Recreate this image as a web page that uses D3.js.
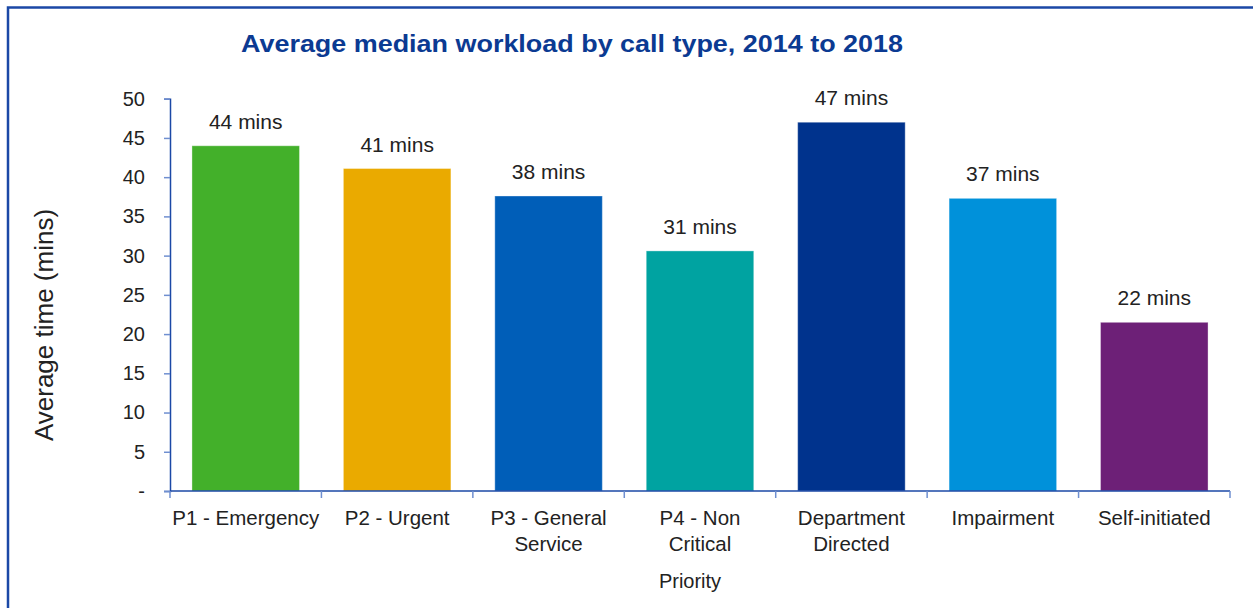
<!DOCTYPE html>
<html>
<head>
<meta charset="utf-8">
<script src="https://cdn.jsdelivr.net/npm/d3@7"></script>
<style>
  html, body { margin: 0; padding: 0; background: #fff; }
  svg { display: block; font-family: "Liberation Sans", Arial, sans-serif; }
</style>
</head>
<body>
<div id="chart"></div>
<script>
// Chart data
const categories = [
	["P1 - Emergency"], ["P2 - Urgent"], ["P3 - General", "Service"],
	["P4 - Non", "Critical"], ["Department", "Directed"], ["Impairment"], ["Self-initiated"]
];
const values = [44.0, 41.1, 37.6, 30.6, 47.0, 37.3, 21.5];
const valueLabels = ["44 mins", "41 mins", "38 mins", "31 mins", "47 mins", "37 mins", "22 mins"];
const barColors = ["#43b02a", "#eaaa00", "#005eb8", "#00a3a1", "#00338d", "#0091da", "#6d2077"];
const yTicks = [0, 5, 10, 15, 20, 25, 30, 35, 40, 45, 50];

(function (d3) {
	"use strict";
	const width = 1253, height = 608;
	const margin = { top: 98.7, right: 23, bottom: 117, left: 170 };

	const svg = d3.select("#chart").append("svg")
		.attr("width", width)
		.attr("height", height);

	// outer frame
	svg.append("rect")
		.attr("x", 8).attr("y", 7.5)
		.attr("width", width + 20).attr("height", height + 20)
		.attr("fill", "none")
		.attr("stroke", "#1b48a6")
		.attr("stroke-width", 2.5);

	// title (reference font is wider, so stretch to its measured width)
	svg.append("text")
		.attr("x", 572).attr("y", 52)
		.attr("text-anchor", "middle")
		.attr("font-weight", "bold")
		.attr("font-size", 24)
		.attr("textLength", 662)
		.attr("lengthAdjust", "spacingAndGlyphs")
		.attr("fill", "#0b3a92")
		.text("Average median workload by call type, 2014 to 2018");

	const x = d3.scaleBand()
		.domain(d3.range(categories.length))
		.range([margin.left, width - margin.right])
		.paddingInner(0.29)
		.paddingOuter(0.145);

	const y = d3.scaleLinear()
		.domain([0, 50])
		.range([height - margin.bottom, margin.top]);

	// bars
	svg.append("g").selectAll("rect")
		.data(values)
		.join("rect")
		.attr("x", (d, i) => x(i))
		.attr("y", d => y(d))
		.attr("width", x.bandwidth())
		.attr("height", d => y(0) - y(d))
		.attr("fill", (d, i) => barColors[i])
		.attr("stroke", "rgba(255,255,255,0.35)")
		.attr("stroke-width", 1);

	// value labels
	svg.append("g").selectAll("text")
		.data(values)
		.join("text")
		.attr("x", (d, i) => x(i) + x.bandwidth() / 2)
		.attr("y", d => y(d) - 17)
		.attr("text-anchor", "middle")
		.attr("font-size", 21)
		.attr("fill", "#222")
		.text((d, i) => valueLabels[i]);

	// y axis
	const yAxis = d3.axisLeft(y)
		.tickValues(yTicks)
		.tickSize(6)
		.tickPadding(19)
		.tickFormat(d => d === 0 ? "-" : d);
	const gy = svg.append("g")
		.attr("transform", "translate(" + margin.left + ",0)")
		.call(yAxis);
	gy.select(".domain").attr("stroke", "#1b48a6").attr("stroke-width", 1.5);
	gy.selectAll(".tick line").attr("stroke", "#6f8fd0").attr("stroke-width", 1.5);
	gy.selectAll(".tick text")
		.attr("font-size", 20)
		.attr("font-family", "Liberation Sans, Arial, sans-serif")
		.attr("fill", "#222");

	// x axis: ticks at band boundaries
	const boundaries = d3.range(categories.length + 1)
		.map(i => margin.left + i * (width - margin.right - margin.left) / categories.length);
	const gx = svg.append("g");
	gx.append("line")
		.attr("x1", margin.left).attr("x2", width - margin.right)
		.attr("y1", y(0)).attr("y2", y(0))
		.attr("stroke", "#1b48a6").attr("stroke-width", 1.5);
	gx.selectAll(".xt")
		.data(boundaries)
		.join("line")
		.attr("class", "xt")
		.attr("x1", d => d).attr("x2", d => d)
		.attr("y1", y(0)).attr("y2", y(0) + 7)
		.attr("stroke", "#6f8fd0").attr("stroke-width", 1.5);

	gx.selectAll(".xl")
		.data(categories)
		.join("text")
		.attr("class", "xl")
		.attr("x", (d, i) => x(i) + x.bandwidth() / 2)
		.attr("y", y(0) + 34)
		.attr("text-anchor", "middle")
		.attr("font-size", 20.5)
		.attr("fill", "#222")
		.selectAll("tspan")
		.data(d => d)
		.join("tspan")
		.attr("x", function () { return d3.select(this.parentNode).attr("x"); })
		.attr("dy", (d, i) => i === 0 ? 0 : 26)
		.text(d => d);

	// axis titles
	svg.append("text")
		.attr("x", 690).attr("y", 588)
		.attr("text-anchor", "middle")
		.attr("font-size", 20)
		.attr("fill", "#222")
		.text("Priority");

	svg.append("text")
		.attr("transform", "translate(53,325) rotate(-90)")
		.attr("text-anchor", "middle")
		.attr("font-size", 26)
		.attr("fill", "#222")
		.text("Average time (mins)");
})(d3);
</script>
</body>
</html>
